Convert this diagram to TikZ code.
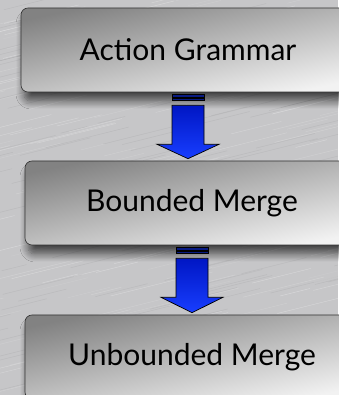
\documentclass[tikz,border=0pt]{standalone}
\usepackage{fontspec}
\setmainfont{Lato}
\usetikzlibrary{calc,shadows.blur}

\definecolor{metal}{RGB}{198,198,200}
\definecolor{boxtop}{RGB}{130,130,130}
\definecolor{boxbot}{RGB}{242,242,242}
\definecolor{arrtop}{RGB}{0,22,196}
\definecolor{arrbot}{RGB}{24,62,255}
\definecolor{stripe}{RGB}{8,26,130}

\tikzset{
  stage/.style={draw=black!80, line width=0.6pt, rounded corners=7pt,
    minimum width=334pt, minimum height=84pt,
    top color=boxtop, bottom color=boxbot, shading angle=12,
    font=\fontsize{30}{34}\selectfont,
    blur shadow={shadow xshift=3pt, shadow yshift=-9pt,
      shadow blur radius=8pt, shadow blur steps=10, shadow opacity=65}},
  flow/.style={draw=black, line width=0.7pt, line join=miter,
    top color=arrtop, bottom color=arrbot},
  bar/.style={draw=black, line width=0.5pt, fill=stripe}
}

\begin{document}
\begin{tikzpicture}[x=1pt,y=1pt]
    \useasboundingbox (0,0) rectangle (338,395);
    % brushed metal background
    \begin{scope}
        \clip (0,0) rectangle (338,395);
        \fill[metal] (0,0) rectangle (338,395);
        \pgfmathsetseed{7}
        \foreach \i in {1,...,260} {
            \pgfmathsetmacro{\px}{rnd*440-80}
            \pgfmathsetmacro{\py}{rnd*440-30}
            \pgfmathsetmacro{\len}{20+rnd*70}
            \pgfmathsetmacro{\op}{0.1+rnd*0.25}
            \draw[white, opacity=\op, line width=0.4pt]
                (\px,\py) -- ++(14:\len);
        }
        \foreach \i in {1,...,160} {
            \pgfmathsetmacro{\px}{rnd*440-80}
            \pgfmathsetmacro{\py}{rnd*440-30}
            \pgfmathsetmacro{\len}{20+rnd*70}
            \draw[black!50, opacity=0.18, line width=0.4pt]
                (\px,\py) -- ++(14:\len);
        }
    \end{scope}

    \node[stage] (act) at (188,345) {Action Grammar};
    \node[stage] (bnd) at (192,192) {Bounded Merge};
    \node[stage] (unb) at (192,38) {Unbounded Merge};

    % arrows between stages
    \foreach \a/\b in {act/bnd, bnd/unb} {
        \draw[bar] ($(\a.south)+(-16,-2)$) rectangle ($(\a.south)+(16,-4.5)$);
        \draw[bar] ($(\a.south)+(-16,-5.5)$) rectangle ($(\a.south)+(16,-8)$);
        \draw[flow] ($(\a.south)+(-16,-13)$) -- ($(\a.south)+(-16,-52)$)
            -- ($(\a.south)+(-31,-52)$) -- ($(\a.south |- \b.north)+(0,2)$)
            -- ($(\a.south)+(31,-52)$) -- ($(\a.south)+(16,-52)$)
            -- ($(\a.south)+(16,-13)$) -- cycle;
    }
\end{tikzpicture}
\end{document}
